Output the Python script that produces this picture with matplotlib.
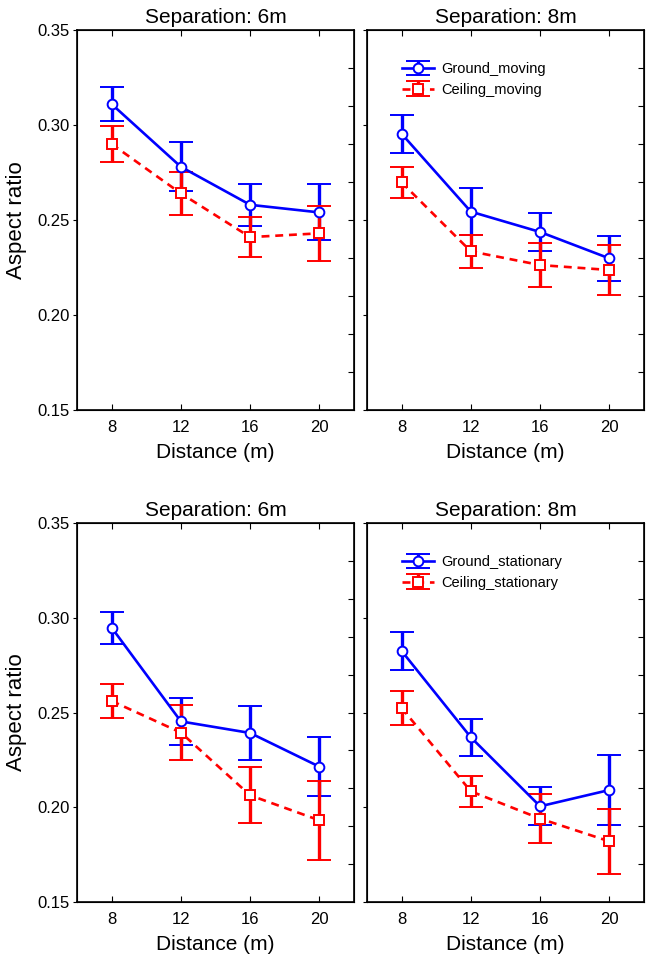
import matplotlib
matplotlib.use("Agg")
import matplotlib.pyplot as plt
import numpy as np

plt.rcParams['font.family'] = ['Liberation Sans', 'DejaVu Sans']

distance = [8, 12, 16, 20]

# moving, separation 6m
ground_moving_6 = [0.311, 0.278, 0.258, 0.254]
ground_moving_6_err = [0.0088, 0.0128, 0.0110, 0.0147]
ceiling_moving_6 = [0.290, 0.264, 0.241, 0.243]
ceiling_moving_6_err = [0.0095, 0.0115, 0.0105, 0.0146]

# moving, separation 8m
ground_moving_8 = [0.2954, 0.2544, 0.2437, 0.2298]
ground_moving_8_err = [0.0100, 0.0122, 0.0101, 0.0118]
ceiling_moving_8 = [0.2698, 0.2335, 0.2263, 0.2237]
ceiling_moving_8_err = [0.0083, 0.0086, 0.0117, 0.0130]

# stationary, separation 6m
ground_stat_6 = [0.2948, 0.2453, 0.2392, 0.2214]
ground_stat_6_err = [0.0085, 0.0124, 0.0141, 0.0157]
ceiling_stat_6 = [0.2561, 0.2394, 0.2063, 0.1931]
ceiling_stat_6_err = [0.0091, 0.0147, 0.0148, 0.0207]

# stationary, separation 8m
ground_stat_8 = [0.2825, 0.2369, 0.2005, 0.2091]
ground_stat_8_err = [0.0102, 0.0098, 0.0100, 0.0184]
ceiling_stat_8 = [0.2524, 0.2084, 0.1940, 0.1820]
ceiling_stat_8_err = [0.0090, 0.0081, 0.0128, 0.0173]

titles = ["Separation: 6m", "Separation: 8m", "Separation: 6m", "Separation: 8m"]
panels = [
    (ground_moving_6, ground_moving_6_err, ceiling_moving_6, ceiling_moving_6_err),
    (ground_moving_8, ground_moving_8_err, ceiling_moving_8, ceiling_moving_8_err),
    (ground_stat_6, ground_stat_6_err, ceiling_stat_6, ceiling_stat_6_err),
    (ground_stat_8, ground_stat_8_err, ceiling_stat_8, ceiling_stat_8_err),
]
legend_labels = {1: ("Ground_moving", "Ceiling_moving"),
                 3: ("Ground_stationary", "Ceiling_stationary")}
yticks = [0.15, 0.20, 0.25, 0.30, 0.35]

fig = plt.figure(figsize=(6.51, 9.65), dpi=100)
rects = [
    [0.1183, 0.5751, 0.4255, 0.3938],
    [0.5637, 0.5751, 0.4255, 0.3938],
    [0.1183, 0.0653, 0.4255, 0.3927],
    [0.5637, 0.0653, 0.4255, 0.3927],
]

for i in range(4):
    ax = fig.add_axes(rects[i])
    g, ge, c, ce = panels[i]
    h1 = ax.errorbar(distance, g, yerr=ge, color="#0000ff", lw=1.9, elinewidth=2.4,
                     capsize=8.5, capthick=2.4, marker="o", ms=7, mfc="white",
                     mec="#0000ff", mew=1.4)
    h2 = ax.errorbar(distance, c, yerr=ce, color="#ff0000", lw=1.9, ls=(0, (3, 2.2)),
                     elinewidth=2.4, capsize=8.5, capthick=2.4, marker="s", ms=7,
                     mfc="white", mec="#ff0000", mew=1.4)
    ax.set_xlim(6, 22)
    ax.set_ylim(0.15, 0.35)
    ax.set_xticks(distance)
    ax.set_yticks(yticks)
    ax.tick_params(axis="x", direction="in", top=True, labelsize=12, length=4, pad=7)
    ax.tick_params(axis="y", direction="out", right=False, labelsize=12, length=3, pad=2)
    if i % 2 == 0:
        ax.set_yticklabels(["%.2f" % v for v in yticks])
        ax.set_ylabel("Aspect ratio", fontsize=16, labelpad=8)
    else:
        ax.set_yticklabels([])
    # right-hand minor ticks
    ax2 = ax.twinx()
    ax2.set_ylim(0.15, 0.35)
    ax2.set_yticks(np.arange(0.17, 0.34, 0.02))
    ax2.tick_params(direction="in", labelright=False, length=4)
    ax.set_xlabel("Distance (m)", fontsize=15, labelpad=6)
    ax.set_title(titles[i], fontsize=15, pad=5)
    for sp in ax.spines.values():
        sp.set_linewidth(1.2)
    if i in legend_labels:
        ax.legend([h1, h2], legend_labels[i], loc="upper left", frameon=False,
                  fontsize=10.5, bbox_to_anchor=(0.08, 0.95), handlelength=2.2,
                  handletextpad=0.5, labelspacing=0.45)

fig.savefig("out.png", dpi=100)
